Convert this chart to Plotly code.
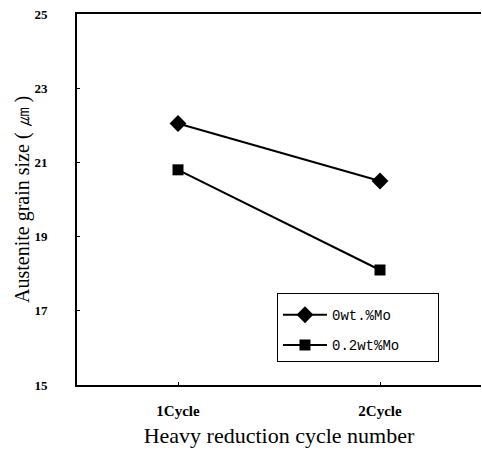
import plotly.graph_objects as go

cycles = ["1Cycle", "2Cycle"]
mo0 = [22.05, 20.5]
mo02 = [20.8, 18.1]
y_ticks = [15, 17, 19, 21, 23, 25]
names = ["0wt.%Mo", "0.2wt%Mo"]

pad = "\u00a0" * 4

fig = go.Figure()
fig.add_trace(go.Scatter(
    x=cycles, y=mo0, name=names[0] + pad, mode="lines+markers",
    line=dict(color="black", width=2),
    marker=dict(symbol="diamond", size=13, color="black"),
    legendgroup="a"))
fig.add_trace(go.Scatter(
    x=cycles, y=mo02, name=names[1] + pad, mode="lines+markers",
    line=dict(color="black", width=2),
    marker=dict(symbol="square", size=11, color="black"),
    legendgroup="b"))

yfont = dict(family="Liberation Serif", size=13, color="black", weight="bold")
xfont = dict(family="Liberation Serif", size=15, color="black", weight="bold")

fig.update_layout(
    width=482, height=453,
    margin=dict(l=77, r=1, t=14, b=68),
    paper_bgcolor="white", plot_bgcolor="white",
    font=dict(family="Liberation Serif", color="black"),
    showlegend=True,
    legend=dict(
        x=0.495, y=0.248, xanchor="left", yanchor="top",
        bordercolor="black", borderwidth=1,
        font=dict(family="Liberation Mono", size=14, color="black"),
        tracegroupgap=9, itemwidth=44,
        title=dict(text="\u00a0", font=dict(size=4)),
    ),
    xaxis=dict(
        range=[-0.5, 1.5], showline=True, linecolor="black", linewidth=2,
        mirror=True, ticks="inside", ticklen=3, tickcolor="black",
        tickfont=xfont,
        showgrid=False, zeroline=False, ticklabelstandoff=11,
        title=dict(text="Heavy reduction cycle number",
                   font=dict(family="Liberation Serif", size=22), standoff=10),
    ),
    yaxis=dict(
        range=[15, 25], tickvals=y_ticks, showline=True, linecolor="black",
        linewidth=2, mirror=False, ticks="inside", ticklen=3, tickcolor="black",
        tickfont=yfont,
        showgrid=False, zeroline=False, ticklabelstandoff=25,
    ),
    annotations=[dict(
        text="Austenite grain size ( ㎛ )", textangle=-90,
        xref="paper", yref="paper", x=-0.135, y=0.5,
        xanchor="center", yanchor="middle", showarrow=False,
        font=dict(family="Liberation Serif", size=20, color="black"),
    )],
)

fig.write_html("out.html")
